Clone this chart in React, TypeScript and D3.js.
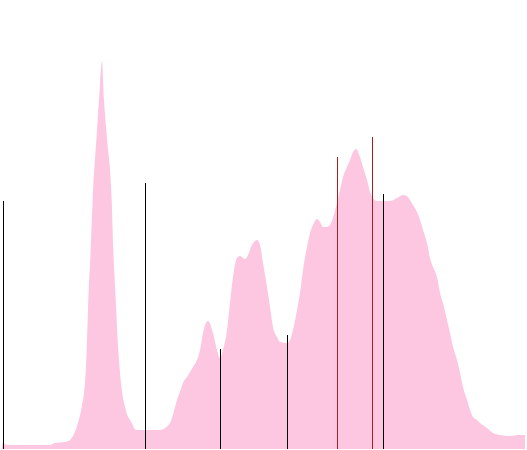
import React from "react";
import * as d3 from "d3";

// density profile: x position (units), density value (units)
const densityX = [0, 8, 48, 53, 63, 68, 74.7, 79.7, 83, 84.7, 86.3, 88.7, 90.7, 94.7, 97, 100, 102, 104.7, 109.7, 111.3, 113.7, 116.3, 119, 123, 129.7, 134, 158, 168, 176, 178, 181, 185, 191, 195, 198, 201, 206, 211, 215, 218, 221, 225, 228, 231, 235, 238, 243, 246, 250, 255, 258, 261, 265, 268, 271, 275, 278, 285, 288, 291, 295, 298, 301, 305, 308, 311, 315, 318, 321, 325, 328, 331, 335, 338, 341, 345, 348, 351, 354, 358, 361, 365, 368, 371, 375, 381, 388, 395, 401, 405, 408, 411, 415, 418, 421, 425, 428, 431, 435, 438, 441, 445, 448, 451, 455, 458, 461, 465, 468, 471, 475, 478, 485, 491, 498, 508, 516, 523];
const densityY = [6, 4, 4, 6, 7, 9, 22, 42, 66, 99, 149, 199, 249, 314, 349, 388, 349, 314, 249, 199, 149, 99, 66, 42, 26, 19, 19, 26, 52, 57, 66, 72, 82, 89, 99, 116, 128, 116, 99, 91, 99, 119, 146, 172, 191, 193, 190, 194, 204, 209, 204, 186, 162, 142, 122, 112, 107, 106, 109, 119, 139, 156, 179, 202, 216, 224, 230, 227, 222, 222, 224, 231, 246, 259, 272, 282, 289, 297, 300, 292, 282, 269, 257, 251, 248, 248, 248, 251, 254, 253, 249, 244, 237, 229, 219, 206, 191, 182, 172, 156, 146, 129, 116, 102, 89, 76, 62, 49, 39, 32, 29, 26, 21, 16, 14, 13, 14, 14];

// reference lines: position, height, colour group
const lineX = [1, 143, 218, 285, 335, 370, 381];
const lineH = [248, 266, 100, 114, 292, 312, 255];
const lineKind = ["black", "black", "black", "black", "red", "red", "black"];

const W = 527;
const H = 450;

export default function App() {
  const x = d3.scaleLinear().domain([0, 523]).range([2, 525]);
  const y = d3.scaleLinear().domain([0, 388]).range([449, 61]);
  const pts = densityX.map((v, i) => [v, densityY[i]] as [number, number]);
  const area = d3
    .area<[number, number]>()
    .x((d) => x(d[0]))
    .y0(y(0))
    .y1((d) => y(d[1]))
    .curve(d3.curveMonotoneX);
  return (
    <svg
      width={W}
      height={H}
      style={{ position: "fixed", left: 0, top: 0, background: "#fff" }}
    >
      <path d={area(pts) ?? ""} fill="#fdc6e1" stroke="none" />
      {lineX.map((lx, i) => (
        <line
          key={i}
          x1={Math.round(x(lx)) + 0.5}
          x2={Math.round(x(lx)) + 0.5}
          y1={y(0)}
          y2={y(lineH[i])}
          stroke={lineKind[i] === "red" ? "#aa1e1e" : "#000"}
          strokeWidth={1}
        />
      ))}
    </svg>
  );
}
